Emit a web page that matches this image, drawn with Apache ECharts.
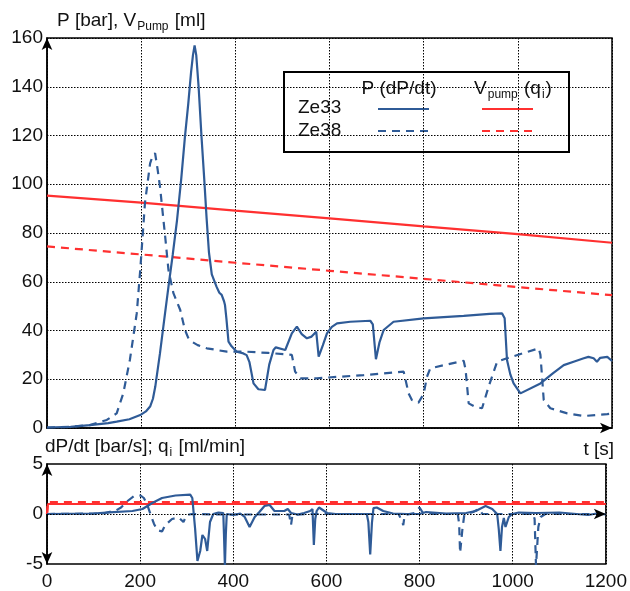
<!DOCTYPE html>
<html>
<head>
<meta charset="utf-8">
<script src="https://cdn.jsdelivr.net/npm/echarts@6/dist/echarts.min.js"></script>
<style>
  html, body { margin: 0; padding: 0; background: #fff; }
  #chart { width: 630px; height: 591px; }
</style>
</head>
<body>
<div id="chart"></div>
<script>
// t [s] ticks
const tTicks = [0, 200, 400, 600, 800, 1000, 1200];

// P [bar]
const pZe33 = [[0,0.2],[50,0.5],[91,1.2],[130,2.0],[148,2.6],[175,3.6],[198,5.3],[210,6.8],[219,8.8],[225,12],[230,17],[240,30.7],[250,46],[258,58],[267,71],[276,85],[285,102],[293,119.5],[300,133],[306,146],[310,153],[313.5,157],[317,153],[322,140],[328,120],[334,102],[339,86],[344,72],[350,63],[360,58],[366,55.5],[371,54.6],[376,52],[378,50.5],[381,45],[385.5,35.4],[392,33.5],[403,31.3],[417,30.6],[424,29.9],[430,27],[438.6,18.3],[449,15.9],[463,15.6],[472,26],[481,32],[486,33.1],[506,32],[520,38.8],[530.7,41.6],[541,38.5],[552,36.8],[562,37.5],[571.8,39.5],[577,29.3],[586,34],[594.6,38.8],[605,41.5],[616,42.9],[644,43.6],[686.6,44],[692,42.5],[698.6,28.2],[706,35],[715,40.2],[736,43.6],[800,45],[885,46],[940,46.8],[966.6,47],[972,45],[977,27.9],[984,22],[991,18.3],[1005.5,14.2],[1048,18.3],[1075,22.5],[1097.5,25.8],[1120,27.3],[1140,28.6],[1150,29.2],[1161,28.6],[1168,27.2],[1175,28.8],[1190,29.2],[1200,27.5]];
const pZe38 = [[0,0.2],[50,0.5],[91,1.2],[127,3.3],[148,6],[162,14.2],[176,27.9],[190.6,47],[198,64.8],[208,92.2],[219,108.6],[225,112],[229.6,112.7],[235,106],[240,99],[251,78.5],[258,64.8],[268.5,55.3],[283,48.4],[293,40.2],[300,37],[307.5,35.4],[320,34],[339.5,32.7],[382,31.3],[423,31.3],[470,30.8],[520,30],[527,23.1],[538,20.4],[573,20.4],[672.5,21.7],[757.6,23.1],[768,14.2],[775,11.5],[789,10.4],[800,14],[807,21],[814,24.5],[885,27.6],[889,24],[895.6,10.1],[910,8.6],[924,8.1],[938,17],[956,27.2],[977,28.6],[1044.6,32.7],[1048,30],[1055,11.5],[1069,8.1],[1105,6],[1140,4.9],[1190,5.7],[1200,6]];

// V_pump [ml]
const vZe33 = [[0,95.3],[200,92.5],[400,89.2],[600,86],[800,82.7],[1000,79.5],[1200,76]];
const vZe38 = [[0,74.5],[200,71.2],[400,67.8],[600,64.5],[800,61.2],[1000,57.8],[1200,54.5]];

// dP/dt [bar/s]
const dpZe33 = [[0,0],[100,0.05],[134,0.16],[183.5,0.3],[205,0.5],[226,1.1],[247,1.6],[276,1.85],[307.5,1.94],[312,1.6],[318,-1.46],[323,-4.7],[329,-3.7],[333.7,-2.1],[339.5,-2.5],[344,-3.7],[350,-0.8],[357,0],[368,0.15],[378.5,0.1],[380,-2],[382,-5.2],[384,-2],[386,0],[400,-0.1],[415,0.05],[424.5,-0.3],[435,-1.3],[446,-0.3],[456,0.2],[467,0.8],[478,0.9],[488.5,0.3],[509.5,0.3],[517,0.5],[524,0.1],[538,-0.05],[552,0.1],[565,0.3],[570,0.5],[573,-3.1],[576,-0.5],[579,0.3],[584,0.65],[601.6,0.1],[620,0],[686.6,0],[690,-0.8],[694,-4.05],[697.7,-0.9],[701,0.58],[708,0.65],[722,0.3],[743,0.05],[772,0],[800,0],[814,0.2],[857,0.05],[900,0.1],[920.5,0.3],[941.7,0.8],[956,0.5],[966.6,0],[970,-1.5],[973.6,-3.7],[977,-1.3],[980.9,-0.4],[984.5,-1.3],[991.6,-0.3],[998.7,0],[1013,0.15],[1050,0.1],[1100,0.15],[1162,-0.1],[1180,0.05],[1200,-0.05]];
const dpZe38 = [[0,0],[120,0.05],[148,0.35],[159,0.65],[173,1.3],[187,1.8],[201,1.85],[208,1.6],[215,0.97],[222,0],[229.6,-0.97],[236.7,-1.6],[247,-1.75],[254,-1.1],[268.5,-0.5],[283,-0.35],[293,-0.8],[300,-0.1],[311,0],[380,-0.05],[520,-0.05],[522,-0.6],[524,-1.1],[527,-0.1],[560,0],[755,0],[761,-0.6],[765,-1.1],[768,-0.1],[790,0.1],[800,0.65],[806,0.2],[830,0],[882,0],[885,-1],[887,-3.9],[892,-1.5],[896,-0.1],[915,0.2],[927.5,0.5],[935,0],[1044,0],[1047,-0.5],[1050,-5.2],[1055,-1.3],[1060,-0.3],[1070,0],[1200,0]];

// q_i [ml/min]
const qZe33 = [[0,0],[2,1.0],[1200,1.0]];
const qZe38 = [[0,0],[2,1.2],[1200,1.2]];

const BLUE = '#2f5b97';
const RED = '#ff3030';
const FONT = 'Liberation Sans';

let chart = echarts.init(document.getElementById('chart'));

function line(name, data, color, dashed, xi) {
    return {
        name: name,
        type: 'line',
        xAxisIndex: xi,
        yAxisIndex: xi,
        data: data,
        symbol: 'none',
        smooth: false,
        lineStyle: { color: color, width: 2.2, type: dashed ? [8, 6] : 'solid' },
        z: color === RED ? 3 : 4
    };
}

const dotted = { color: '#000', width: 1, type: [1.5, 1.5] };
const arrow = [8, 12];
const sub = { fontSize: 12, fontFamily: FONT, fill: '#111', padding: [12, 1, 0, 1] };
const norm = { fontSize: 19, fontFamily: FONT, fill: '#111' };

let options = {
    animation: false,
    textStyle: { fontFamily: FONT },
    grid: [
        { left: 47, top: 38, right: 18, height: 390, show: true, borderColor: '#000', borderWidth: 1.5 },
        { left: 47, top: 464, right: 18, height: 103, show: true, borderColor: '#000', borderWidth: 1.5 }
    ],
    xAxis: [
        {
            gridIndex: 0, type: 'value', min: 0, max: 1200, interval: 200,
            axisLine: { show: true, symbol: ['none', 'arrow'], symbolSize: arrow, lineStyle: { color: '#000', width: 1.5 } },
            axisTick: { show: false },
            axisLabel: { show: false },
            splitLine: { show: true, lineStyle: dotted }
        },
        {
            gridIndex: 1, type: 'value', min: 0, max: 1200, interval: 200,
            axisLine: { show: false, onZero: false },
            axisTick: { show: false },
            axisLabel: { show: true, color: '#111', fontSize: 19, margin: 8, fontFamily: FONT,
                formatter: v => tTicks.includes(v) ? String(v) : '' },
            splitLine: { show: true, lineStyle: dotted }
        }
    ],
    yAxis: [
        {
            gridIndex: 0, type: 'value', min: 0, max: 160, interval: 20,
            axisLine: { show: true, symbol: ['none', 'arrow'], symbolSize: arrow, lineStyle: { color: '#000', width: 1.5 } },
            axisTick: { show: false },
            axisLabel: { color: '#111', fontSize: 19, margin: 4, fontFamily: FONT },
            splitLine: { show: true, lineStyle: dotted }
        },
        {
            gridIndex: 1, type: 'value', min: -5, max: 5, interval: 5,
            axisLine: { show: true, onZero: false, symbol: ['arrow', 'arrow'], symbolSize: arrow, lineStyle: { color: '#000', width: 1.5 } },
            axisTick: { show: false },
            axisLabel: { color: '#111', fontSize: 19, margin: 4, fontFamily: FONT, padding: [5, 0, 0, 0] },
            splitLine: { show: false }
        }
    ],
    series: [
        line('V Ze33', vZe33, RED, false, 0),
        line('V Ze38', vZe38, RED, true, 0),
        line('P Ze38', pZe38, BLUE, true, 0),
        line('P Ze33', pZe33, BLUE, false, 0),
        line('q Ze33', qZe33, RED, false, 1),
        line('q Ze38', qZe38, RED, true, 1),
        line('dP Ze38', dpZe38, BLUE, true, 1),
        Object.assign(line('dP Ze33', dpZe33, BLUE, false, 1), {
            markLine: {
                silent: true,
                symbol: ['none', 'arrow'],
                symbolSize: arrow,
                label: { show: false },
                lineStyle: { color: '#000', width: 1.2, type: [1.5, 1.5] },
                data: [{ yAxis: 0 }],
                z: 5
            }
        })
    ],
    graphic: [
        {
            type: 'text', left: 57, top: 11,
            style: { text: '{a|P [bar], V}{s|Pump}{a| [ml]}', rich: { a: norm, s: sub } }
        },
        {
            type: 'text', left: 45, top: 437,
            style: { text: '{a|dP/dt [bar/s]; q}{s|i}{a| [ml/min]}', rich: { a: norm, s: sub } }
        },
        {
            type: 'text', right: 16, top: 440,
            style: { text: 't [s]', fontSize: 19, fontFamily: FONT, fill: '#111' }
        },
        // legend box
        {
            type: 'group', left: 283, top: 71,
            children: [
                { type: 'rect', shape: { x: 0, y: 0, width: 285, height: 80 },
                  style: { fill: '#fff', stroke: '#000', lineWidth: 2 } },
                { type: 'text', x: 115, y: 17,
                  style: { text: 'P (dP/dt)', fontSize: 19, fontFamily: FONT, fill: '#111', align: 'center', verticalAlign: 'middle' } },
                { type: 'text', x: 229, y: 17,
                  style: {
                      text: '{a|V}{s|pump}{a| (q}{s|i}{a|)}',
                      align: 'center', verticalAlign: 'middle',
                      rich: { a: norm, s: sub }
                  } },
                { type: 'text', x: 14, y: 36,
                  style: { text: 'Ze33', fontSize: 19, fontFamily: FONT, fill: '#111', verticalAlign: 'middle' } },
                { type: 'text', x: 14, y: 59,
                  style: { text: 'Ze38', fontSize: 19, fontFamily: FONT, fill: '#111', verticalAlign: 'middle' } },
                { type: 'line', shape: { x1: 94, y1: 37, x2: 145, y2: 37 }, style: { stroke: BLUE, lineWidth: 2.2 } },
                { type: 'line', shape: { x1: 198, y1: 37, x2: 249, y2: 37 }, style: { stroke: RED, lineWidth: 2.2 } },
                { type: 'line', shape: { x1: 94, y1: 59, x2: 145, y2: 59 }, style: { stroke: BLUE, lineWidth: 2.2, lineDash: [8, 6] } },
                { type: 'line', shape: { x1: 198, y1: 59, x2: 249, y2: 59 }, style: { stroke: RED, lineWidth: 2.2, lineDash: [8, 6] } }
            ]
        }
    ]
};

chart.setOption(options);
</script>
</body>
</html>
